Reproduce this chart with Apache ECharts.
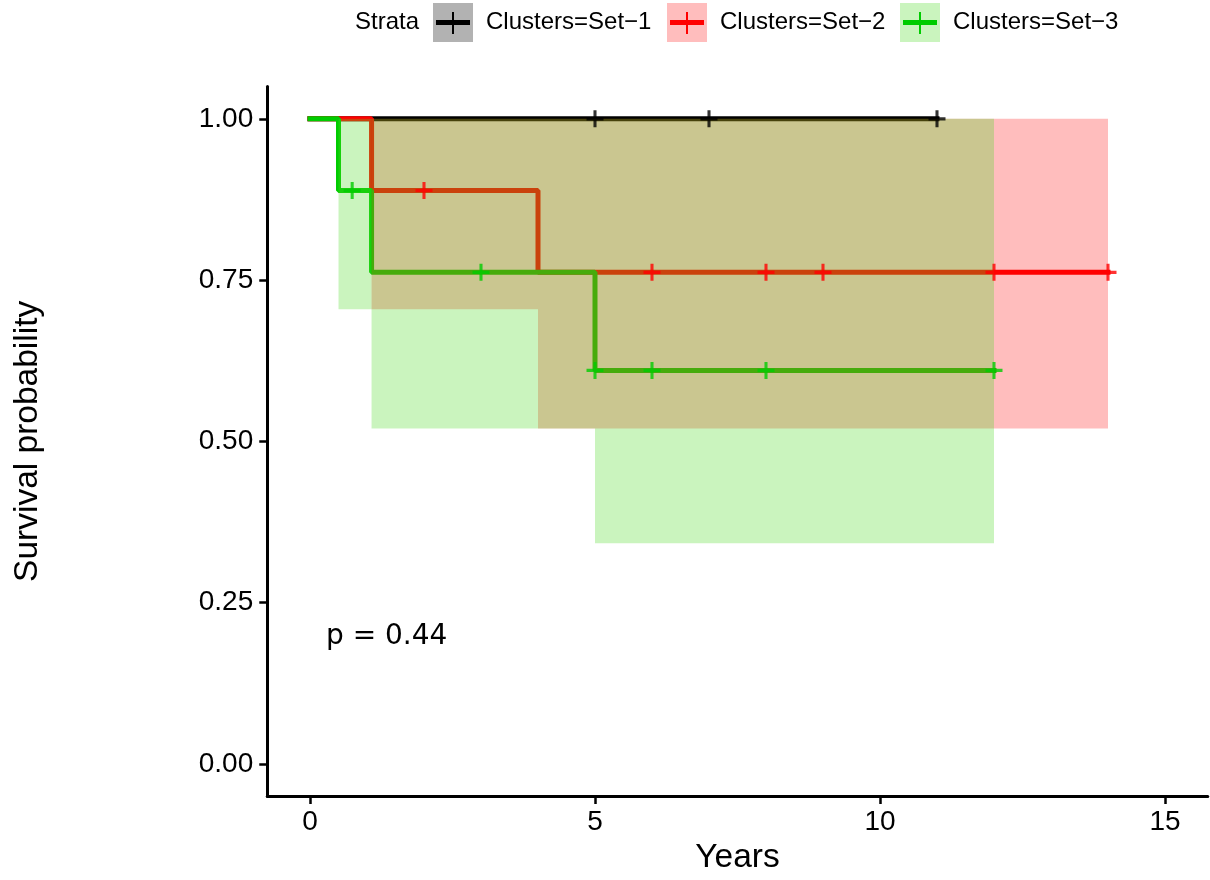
<!DOCTYPE html>
<html>
<head>
<meta charset="utf-8">
<script src="https://cdn.jsdelivr.net/npm/echarts@6/dist/echarts.min.js"></script>
<style>
  html, body { margin: 0; padding: 0; background: #ffffff; }
  #chart { width: 1210px; height: 880px; }
</style>
</head>
<body>
<div id="chart"></div>
<script>
// Kaplan–Meier curves per cluster set
const set1Time = [0, 11];
const set1Surv = [1, 1];
const set2Time = [0, 1.08, 4, 14];
const set2Surv = [1, 0.889, 0.762, 0.762];
const set3Time = [0, 0.5, 1.08, 5, 12];
const set3Surv = [1, 0.889, 0.762, 0.610, 0.610];

// censoring times (+ marks)
const set1CensorTime = [5, 7, 11];
const set2CensorTime = [2, 6, 8, 9, 12, 14];
const set3CensorTime = [0.74, 3, 5, 6, 8, 12];

// 95% confidence bands, one rectangle per step interval
const set2CiStart = [1.08, 4];
const set2CiEnd = [4, 14];
const set2CiLower = [0.705, 0.52];
const set2CiUpper = [1, 1];
const set3CiStart = [0.5, 1.08, 5];
const set3CiEnd = [1.08, 5, 12];
const set3CiLower = [0.705, 0.52, 0.342];
const set3CiUpper = [1, 1, 1];

const xTicks = [0, 5, 10, 15];
const yTicks = [0, 0.25, 0.5, 0.75, 1];
const strataNames = ['Clusters=Set\u22121', 'Clusters=Set\u22122', 'Clusters=Set\u22123'];
const pValueText = 'p = 0.44';

const COLORS = ['#000000', '#FF0000', '#00CC00'];
const BAND = ['rgba(0,0,0,0.3)', 'rgba(255,0,0,0.26)', 'rgba(80,220,40,0.3)'];
const FONT = '"Liberation Sans", Arial, Helvetica, sans-serif';

function zip(a, b) { return a.map((v, i) => [v, b[i]]); }
function survAt(times, surv, t) {
  let s = surv[0];
  for (let i = 0; i < times.length; i++) { if (times[i] <= t) s = surv[i]; }
  return s;
}
function bandRows(start, end, lower, upper) {
  return start.map((s, i) => [s, end[i], lower[i], upper[i]]);
}

const plusPath = 'path://M4.1,0 H5.9 V4.1 H10 V5.9 H5.9 V10 H4.1 V5.9 H0 V4.1 H4.1 Z';

function curve(name, times, surv, color) {
  return {
    name, type: 'line', step: 'end', data: zip(times, surv),
    showSymbol: false, symbol: 'none', z: 2, silent: true,
    lineStyle: { color, width: 5, cap: 'square' }
  };
}
function band(name, rows, fill) {
  return {
    name, type: 'custom', z: 3, silent: true, data: rows,
    encode: { x: [0, 1], y: [2, 3] },
    renderItem: function (params, api) {
      const a = api.coord([api.value(0), api.value(3)]);
      const b = api.coord([api.value(1), api.value(2)]);
      return { type: 'rect', shape: { x: a[0], y: a[1], width: b[0] - a[0], height: b[1] - a[1] }, style: { fill } };
    }
  };
}
function censor(name, ctimes, times, surv, color) {
  return {
    name, type: 'scatter', z: 4, silent: true,
    data: ctimes.map(t => [t, survAt(times, surv, t)]),
    symbol: plusPath, symbolSize: 17,
    itemStyle: { color }
  };
}

const chart = echarts.init(document.getElementById('chart'), null, { renderer: 'canvas' });

// legend keys drawn as boxes with a line and a tick
const legendGraphics = [];
legendGraphics.push({ type: 'text', left: 355, top: 10, style: { text: 'Strata', font: '24px ' + FONT, fill: '#000' } });
const keyX = [433, 667, 900];
const textX = [486, 720, 953];
strataNames.forEach((nm, i) => {
  legendGraphics.push({ type: 'rect', shape: { x: keyX[i], y: 3, width: 40, height: 39 }, style: { fill: BAND[i] } });
  legendGraphics.push({ type: 'line', shape: { x1: keyX[i] + 3, y1: 22.5, x2: keyX[i] + 37, y2: 22.5 }, style: { stroke: COLORS[i], lineWidth: 5 } });
  legendGraphics.push({ type: 'line', shape: { x1: keyX[i] + 20, y1: 12, x2: keyX[i] + 20, y2: 34 }, style: { stroke: COLORS[i], lineWidth: 2 } });
  legendGraphics.push({ type: 'text', left: textX[i], top: 10, style: { text: nm, font: '24px ' + FONT, fill: '#000' } });
});
legendGraphics.push({ type: 'text', left: 326, top: 623, style: { text: pValueText, font: '28px "DejaVu Sans", sans-serif', fill: '#000' } });

chart.setOption({
  animation: false,
  backgroundColor: '#ffffff',
  grid: { left: 267.25, right: 2.25, top: 86.6, bottom: 80.6, containLabel: false },
  xAxis: {
    type: 'value', min: -0.75, max: 15.75,
    name: 'Years', nameLocation: 'middle', nameGap: 42,
    nameTextStyle: { fontFamily: FONT, fontSize: 33.5, color: '#000' },
    axisLine: { show: true, onZero: false, lineStyle: { color: '#000', width: 3 } },
    axisTick: { show: true, length: 8, customValues: xTicks, lineStyle: { color: '#000', width: 2.5 } },
    axisLabel: { customValues: xTicks, margin: 12, fontFamily: FONT, fontSize: 28, color: '#000', formatter: v => String(v) },
    splitLine: { show: false }
  },
  yAxis: {
    type: 'value', min: -0.05, max: 1.05,
    name: 'Survival probability', nameLocation: 'middle', nameGap: 222, nameRotate: 90,
    nameTextStyle: { fontFamily: FONT, fontSize: 33.5, color: '#000' },
    axisLine: { show: true, onZero: false, lineStyle: { color: '#000', width: 3 } },
    axisTick: { show: true, length: 8, customValues: yTicks, lineStyle: { color: '#000', width: 2.5 } },
    axisLabel: { customValues: yTicks, margin: 14, fontFamily: FONT, fontSize: 28, color: '#000', formatter: v => v.toFixed(2) },
    splitLine: { show: false }
  },
  graphic: legendGraphics,
  series: [
    curve(strataNames[0], set1Time, set1Surv, COLORS[0]),
    curve(strataNames[1], set2Time, set2Surv, COLORS[1]),
    curve(strataNames[2], set3Time, set3Surv, COLORS[2]),
    band(strataNames[1] + ' CI', bandRows(set2CiStart, set2CiEnd, set2CiLower, set2CiUpper), BAND[1]),
    band(strataNames[2] + ' CI', bandRows(set3CiStart, set3CiEnd, set3CiLower, set3CiUpper), BAND[2]),
    censor(strataNames[0] + ' censored', set1CensorTime, set1Time, set1Surv, COLORS[0]),
    censor(strataNames[1] + ' censored', set2CensorTime, set2Time, set2Surv, COLORS[1]),
    censor(strataNames[2] + ' censored', set3CensorTime, set3Time, set3Surv, COLORS[2])
  ]
});
</script>
</body>
</html>
